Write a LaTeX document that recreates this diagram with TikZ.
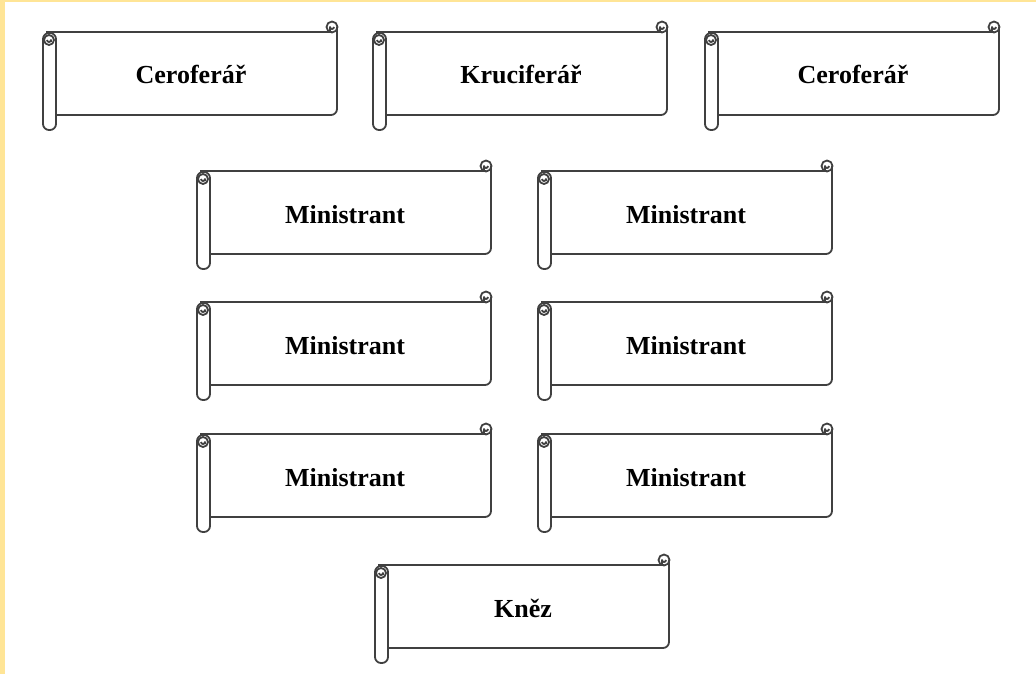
\documentclass[tikz,border=0pt]{standalone}
\usepackage{fontspec}
\setmainfont{Liberation Serif}
\definecolor{edgeyellow}{RGB}{255,229,150}
\tikzset{
  scrollline/.style={line width=1.8pt, draw=black!75, line join=round},
  scrolltext/.style={font=\fontsize{26}{30}\selectfont\bfseries, anchor=base},
}
% one scroll: name, x, y (top line, left of the roll), text
\newcommand{\scrollbox}[4]{%
  \begin{scope}[shift={(#2,#3)}]
    \draw[scrollline] (3,0) -- (289,0);
    \draw[scrollline, rounded corners=6pt] (13,83) -- (294,83) -- (294,-5);
    \draw[scrollline] (289,-5) circle (5.5);
    \draw[scrollline] (287,0) -- (287,-5) arc (180:0:2);
    \draw[scrollline, fill=white, rounded corners=6pt] (0,1) rectangle (13,98);
    \draw[scrollline] (6,8) circle (5);
    \draw[scrollline] (4,8) arc (180:0:2) -- (8,10);
    \node[scrolltext] (#1) at (148,52) {#4};
  \end{scope}}
\begin{document}
\begin{tikzpicture}[x=1pt,y=-1pt]
  \useasboundingbox (0,0) rectangle (1036,674);
  \fill[white] (0,0) rectangle (1036,674);
  \fill[edgeyellow] (0,0) rectangle (5,674);
  \fill[edgeyellow] (0,0) rectangle (1036,2.5);

  \scrollbox{cero1}{43}{32}{Ceroferář}
  \scrollbox{kruc}{373}{32}{Kruciferář}
  \scrollbox{cero2}{705}{32}{Ceroferář}

  \scrollbox{min1}{197}{171}{Ministrant}
  \scrollbox{min2}{538}{171}{Ministrant}
  \scrollbox{min3}{197}{302}{Ministrant}
  \scrollbox{min4}{538}{302}{Ministrant}
  \scrollbox{min5}{197}{434}{Ministrant}
  \scrollbox{min6}{538}{434}{Ministrant}

  \scrollbox{knez}{375}{565}{Kněz}
\end{tikzpicture}
\end{document}
